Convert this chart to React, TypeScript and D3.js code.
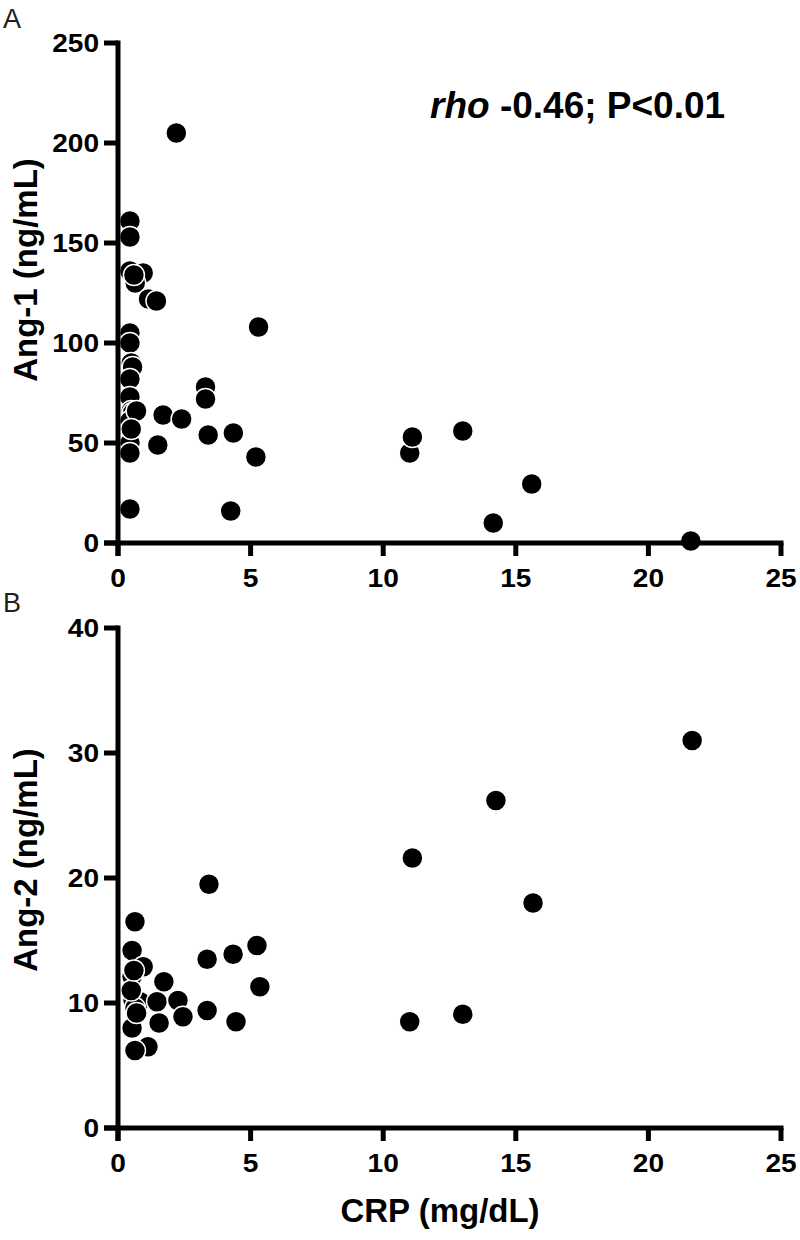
import React from "react";
import * as d3 from "d3";

// Panel A: Ang-1 vs CRP
const crpA = [2.2, 0.45, 0.45, 0.45, 0.95, 0.65, 1.15, 1.45, 0.45, 0.45, 0.5, 0.55, 0.45, 0.45, 0.5, 0.55, 0.45, 1.7, 2.4, 3.3, 3.3, 3.4, 4.35, 1.5, 0.45, 0.45, 5.2, 0.45, 4.25, 5.3, 11.0, 11.1, 13.0, 14.15, 15.6, 21.6, 0.6, 0.7, 0.5];
const ang1 = [205, 161, 153, 136, 135, 130, 122, 121, 105, 100, 90, 88, 82, 73, 66, 65, 61, 64, 62, 78, 72, 54, 55, 49, 50, 45, 43, 17, 16, 108, 45, 53, 56, 10, 29.5, 1, 134, 66, 57];

// Panel B: Ang-2 vs CRP
const crpB = [3.43, 0.64, 0.53, 0.95, 0.53, 1.73, 0.57, 0.83, 1.47, 2.26, 0.64, 2.45, 1.55, 0.53, 1.13, 0.64, 3.36, 3.36, 4.34, 5.24, 5.35, 4.45, 11.0, 11.1, 13.0, 14.25, 15.65, 21.65, 0.5, 0.6, 0.7];
const ang2 = [19.5, 16.5, 14.2, 12.9, 12.1, 11.7, 10.2, 10.1, 10.1, 10.2, 9.6, 8.9, 8.4, 8.0, 6.5, 6.2, 13.5, 9.4, 13.9, 14.6, 11.3, 8.5, 8.5, 21.6, 9.1, 26.2, 18.0, 31.0, 11.0, 12.6, 9.2];

const xTicks = [0, 5, 10, 15, 20, 25];
const yTicksA = [0, 50, 100, 150, 200, 250];
const yTicksB = [0, 10, 20, 30, 40];

const FONT = "'Liberation Sans', Arial, Helvetica, sans-serif";
const TICK_FS = 26;
const TICK_SX = 1.08;

function Panel({ xs, ys, yTicks, yMax, top, bottom, letter, letterY }) {
  const x = d3.scaleLinear().domain([0, 25]).range([118, 781]);
  const y = d3.scaleLinear().domain([0, yMax]).range([bottom, top]);
  const pts = xs.map((v, i) => ({ x: v, y: ys[i] }));
  return (
    <g>
      <text x={3} y={letterY} fontFamily={FONT} fontSize={27} fill="#222">{letter}</text>
      {pts.map((p, i) => (
        <circle key={i} cx={x(p.x)} cy={y(p.y)} r={10.5} fill="#000" stroke="#fff" strokeWidth={1.5} />
      ))}
      <line x1={x(0)} x2={x(0)} y1={y(yMax) - 2.5} y2={y(0) + 13} stroke="#000" strokeWidth={5} />
      <line x1={x(0) - 14} x2={x(25) + 2.5} y1={y(0)} y2={y(0)} stroke="#000" strokeWidth={5} />
      {yTicks.map((t) => (
        <g key={"y" + t}>
          <line x1={x(0) - 14} x2={x(0)} y1={y(t)} y2={y(t)} stroke="#000" strokeWidth={5} />
          <text transform={`translate(${x(0) - 19},${y(t)}) scale(${TICK_SX},1)`} dy="0.36em" textAnchor="end" fontFamily={FONT} fontWeight="bold" fontSize={TICK_FS}>{t}</text>
        </g>
      ))}
      {xTicks.map((t) => (
        <g key={"x" + t}>
          <line x1={x(t)} x2={x(t)} y1={y(0)} y2={y(0) + 13} stroke="#000" strokeWidth={5} />
          <text transform={`translate(${x(t)},${y(0) + 44}) scale(${TICK_SX},1)`} textAnchor="middle" fontFamily={FONT} fontWeight="bold" fontSize={TICK_FS}>{t}</text>
        </g>
      ))}
    </g>
  );
}

export default function App() {
  return (
    <svg width={800} height={1240} style={{ position: "absolute", left: 0, top: 0, background: "#fff" }}>
      <rect width={800} height={1240} fill="#fff" />
      <Panel xs={crpA} ys={ang1} yTicks={yTicksA} yMax={250} top={43} bottom={543} letter="A" letterY={28} />
      <Panel xs={crpB} ys={ang2} yTicks={yTicksB} yMax={40} top={628} bottom={1128} letter="B" letterY={612} />
      <text transform="translate(37,270) rotate(-90)" textAnchor="middle" fontFamily={FONT} fontWeight="bold" fontSize={33}>Ang-1 (ng/mL)</text>
      <text transform="translate(37,860) rotate(-90)" textAnchor="middle" fontFamily={FONT} fontWeight="bold" fontSize={33}>Ang-2 (ng/mL)</text>
      <text x={440} y={1222} textAnchor="middle" fontFamily={FONT} fontWeight="bold" fontSize={33}>CRP (mg/dL)</text>
      <text x={430} y={118} fontFamily={FONT} fontWeight="bold" fontSize={37}>
        <tspan fontStyle="italic">rho</tspan> -0.46; P&lt;0.01
      </text>
    </svg>
  );
}
